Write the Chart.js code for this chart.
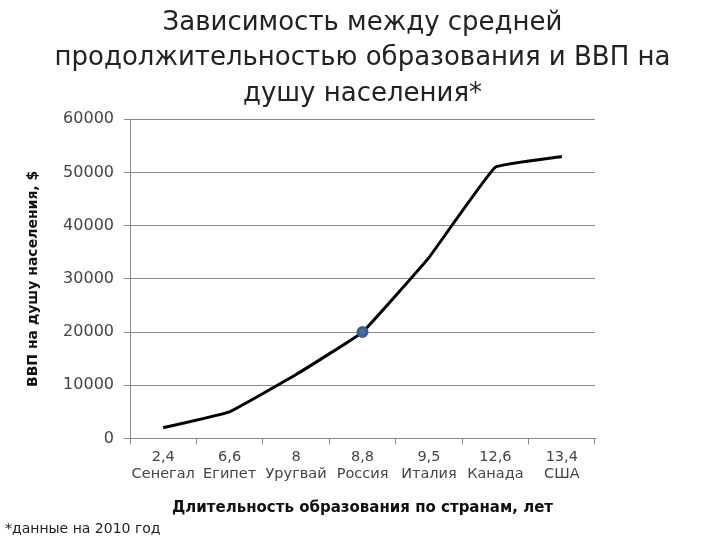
<!DOCTYPE html>
<html>
<head>
<meta charset="utf-8">
<script src="https://cdn.jsdelivr.net/npm/chart.js@4"></script>
<style>
  html, body { margin: 0; padding: 0; background: #fff; }
</style>
</head>
<body>
<canvas id="chart" width="720" height="540"></canvas>
<script>
// --- data ---
const years = ['2,4', '6,6', '8', '8,8', '9,5', '12,6', '13,4'];
const countries = ['Сенегал', 'Египет', 'Уругвай', 'Россия', 'Италия', 'Канада', 'США'];
const gdp = [2000, 5000, 12000, 20000, 34000, 51000, 53000];
const markedPoint = [0, 0, 0, 4.5, 0, 0, 0]; // only Russia has a marker

const font = "'DejaVu Sans', sans-serif";

const ctx = document.getElementById('chart').getContext('2d');
new Chart(ctx, {
  type: 'line',
  data: {
    labels: years.map((y, i) => [y, countries[i]]),
    datasets: [{
      data: gdp,
      borderColor: '#000',
      borderWidth: 3,
      tension: 0.08,
      pointRadius: markedPoint,
      pointBackgroundColor: '#4a6f9e',
      pointBorderColor: '#3d5f8a'
    }]
  },
  options: {
    responsive: false,
    animation: false,
    layout: { padding: { left: 5, right: 0, top: 6, bottom: 2 } },
    plugins: {
      legend: { display: false },
      tooltip: { enabled: false },
      title: {
        display: true,
        text: ['Зависимость между средней', 'продолжительностью образования и ВВП на', 'душу населения*'],
        color: '#222',
        font: { family: font, size: 26, weight: 'normal', lineHeight: 1.35 },
        padding: { top: 0, bottom: 8 }
      },
      subtitle: {
        display: true,
        position: 'bottom',
        align: 'start',
        text: '*данные на 2010 год',
        color: '#222',
        font: { family: font, size: 14 },
        padding: { top: 0, bottom: 0 }
      }
    },
    scales: {
      x: {
        offset: true,
        grid: {
          offset: true,
          drawOnChartArea: false,
          tickLength: 6,
          color: '#888'
        },
        border: { color: '#888' },
        ticks: {
          color: '#444',
          font: { family: font, size: 14.5 },
          maxRotation: 0,
          autoSkip: false,
          padding: 4
        },
        title: {
          display: true,
          text: 'Длительность образования по странам, лет',
          color: '#111',
          font: { family: font, size: 15, weight: 'bold' },
          padding: { top: 12, bottom: 4 }
        }
      },
      y: {
        min: 0,
        max: 60000,
        afterFit: s => { s.width = 125; },
        ticks: {
          stepSize: 10000,
          color: '#444',
          font: { family: font, size: 16 },
          padding: 10,
          callback: v => String(v)
        },
        grid: { color: '#888', tickLength: 6 },
        border: { color: '#888' },
        title: {
          display: true,
          text: 'ВВП на душу населения, $',
          color: '#111',
          font: { family: font, size: 14, weight: 'bold' },
          padding: { top: 20, bottom: 0 }
        }
      },
      // empty box on the right to leave the wide margin
      pad: {
        position: 'right',
        display: true,
        afterFit: s => { s.width = 125; },
        grid: { display: false },
        border: { display: false },
        ticks: { display: false }
      }
    }
  }
});
</script>
</body>
</html>
